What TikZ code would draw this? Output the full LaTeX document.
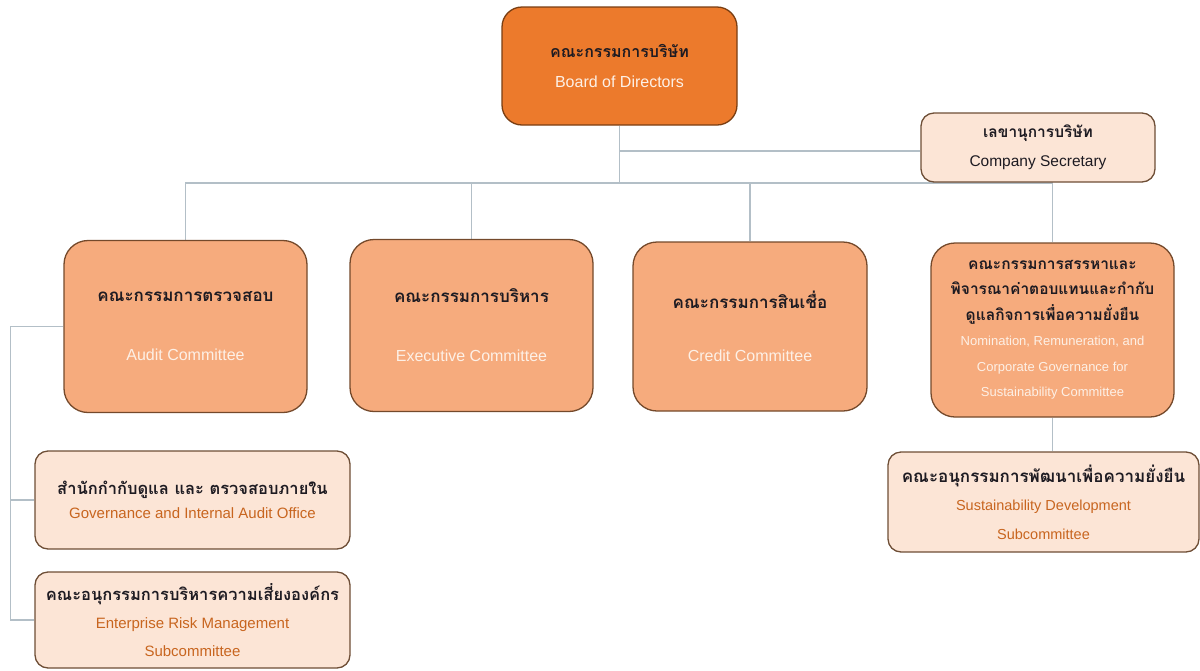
\documentclass[tikz,border=0pt]{standalone}
\usepackage{fontspec}
\setmainfont{Liberation Sans}
\newfontfamily\thaifont[Script=Thai]{Loma}
\usetikzlibrary{positioning, backgrounds}

\definecolor{boardfill}{HTML}{EC7A2C}
\definecolor{boardedge}{HTML}{7A3E12}
\definecolor{comfill}{HTML}{F6AB7D}
\definecolor{comedge}{HTML}{74492B}
\definecolor{lightfill}{HTML}{FCE5D6}
\definecolor{lightedge}{HTML}{6E4E36}
\definecolor{linkgray}{HTML}{B3BFC7}
\definecolor{thaiink}{HTML}{1E1B22}
\definecolor{engorange}{HTML}{C8651F}
\definecolor{engpale}{HTML}{FDF0E6}

\newcommand{\thaitxt}[1]{{\thaifont\bfseries\color{thaiink}#1}}
\newcommand{\fsz}[2]{\fontsize{#1}{#2}\selectfont}

\tikzset{
	link/.style={draw=linkgray, line width=1.3pt},
	board/.style={draw=boardedge, fill=boardfill, line width=1.3pt, rounded corners=20pt, align=center,
		minimum width=235pt, minimum height=118pt, text=engpale},
	committee/.style={draw=comedge, fill=comfill, line width=1.3pt, rounded corners=24pt, align=center,
		minimum width=243pt, minimum height=172pt, text=engpale},
	office/.style={draw=lightedge, fill=lightfill, line width=1.3pt, rounded corners=13pt, align=center,
		minimum width=315pt, minimum height=98pt, text=engorange},
}

\begin{document}
\begin{tikzpicture}[x=1pt, y=-1pt]
	\useasboundingbox (0,0) rectangle (1200,670);

	\node[board, font=\fsz{16}{30}] (bod) at (619.5,66) {\thaitxt{คณะกรรมการบริษัท}\\Board of Directors};
	\node[office, minimum width=234pt, minimum height=69pt, text=thaiink, font=\fsz{15.5}{29}] (sec) at (1038,147.5)
		{\thaitxt{เลขานุการบริษัท}\\Company Secretary};

	\node[committee, font=\fsz{16}{59}] (audit) at (185.5,326.5) {\thaitxt{\fsz{17}{59}คณะกรรมการตรวจสอบ}\\Audit Committee};
	\node[committee, font=\fsz{16}{59}] (exec) at (471.5,325.5) {\thaitxt{\fsz{17}{59}คณะกรรมการบริหาร}\\Executive Committee};
	\node[committee, minimum width=234pt, minimum height=169pt, font=\fsz{16}{53}] (credit) at (750,326.5)
		{\thaitxt{\fsz{17}{53}คณะกรรมการสินเชื่อ}\\Credit Committee};
	\node[committee, minimum height=174pt, font=\fsz{13}{25.5}] (nom) at (1052.5,330)
		{\thaitxt{\fsz{15.5}{23.5}คณะกรรมการสรรหาและ}\\\thaitxt{\fsz{15.5}{23.5}พิจารณาค่าตอบแทนและกำกับ}\\
		\thaitxt{\fsz{15.5}{23.5}ดูแลกิจการเพื่อความยั่งยืน}\\Nomination, Remuneration, and\\Corporate Governance for\\Sustainability Committee};

	\node[office, minimum width=311pt, minimum height=100pt, font=\fsz{14.5}{28.5}] (susdev) at (1043.5,502)
		{\thaitxt{\fsz{17}{28.5}คณะอนุกรรมการพัฒนาเพื่อความยั่งยืน}\\Sustainability Development\\Subcommittee};
	\node[office, font=\fsz{15}{24}] (gov) at (192.5,500)
		{\thaitxt{\fsz{16.5}{24}สำนักกำกับดูแล และ ตรวจสอบภายใน}\\Governance and Internal Audit Office};
	\node[office, minimum height=96pt, font=\fsz{15}{28}] (erm) at (192.5,620)
		{\thaitxt{\fsz{16.5}{28}คณะอนุกรรมการบริหารความเสี่ยงองค์กร}\\Enterprise Risk Management\\Subcommittee};

	\begin{scope}[on background layer]
		\coordinate (bus) at (619.5,183);
		\draw[link] (bod.south) -- (bus);
		\draw[link] (bod.south |- 0,151) -- (sec.west |- 0,151);
		\draw[link] (bus) -| (audit.north);
		\draw[link] (bus) -| (exec.north);
		\draw[link] (bus) -| (credit.north);
		\draw[link] (bus) -| (nom.north);
		\draw[link] (nom.south) -- (nom.south |- susdev.north);
		\draw[link] (audit.west) -- ++(-53,0) coordinate (spine) |- (gov.west);
		\draw[link] (spine) |- (erm.west);
	\end{scope}
\end{tikzpicture}
\end{document}
